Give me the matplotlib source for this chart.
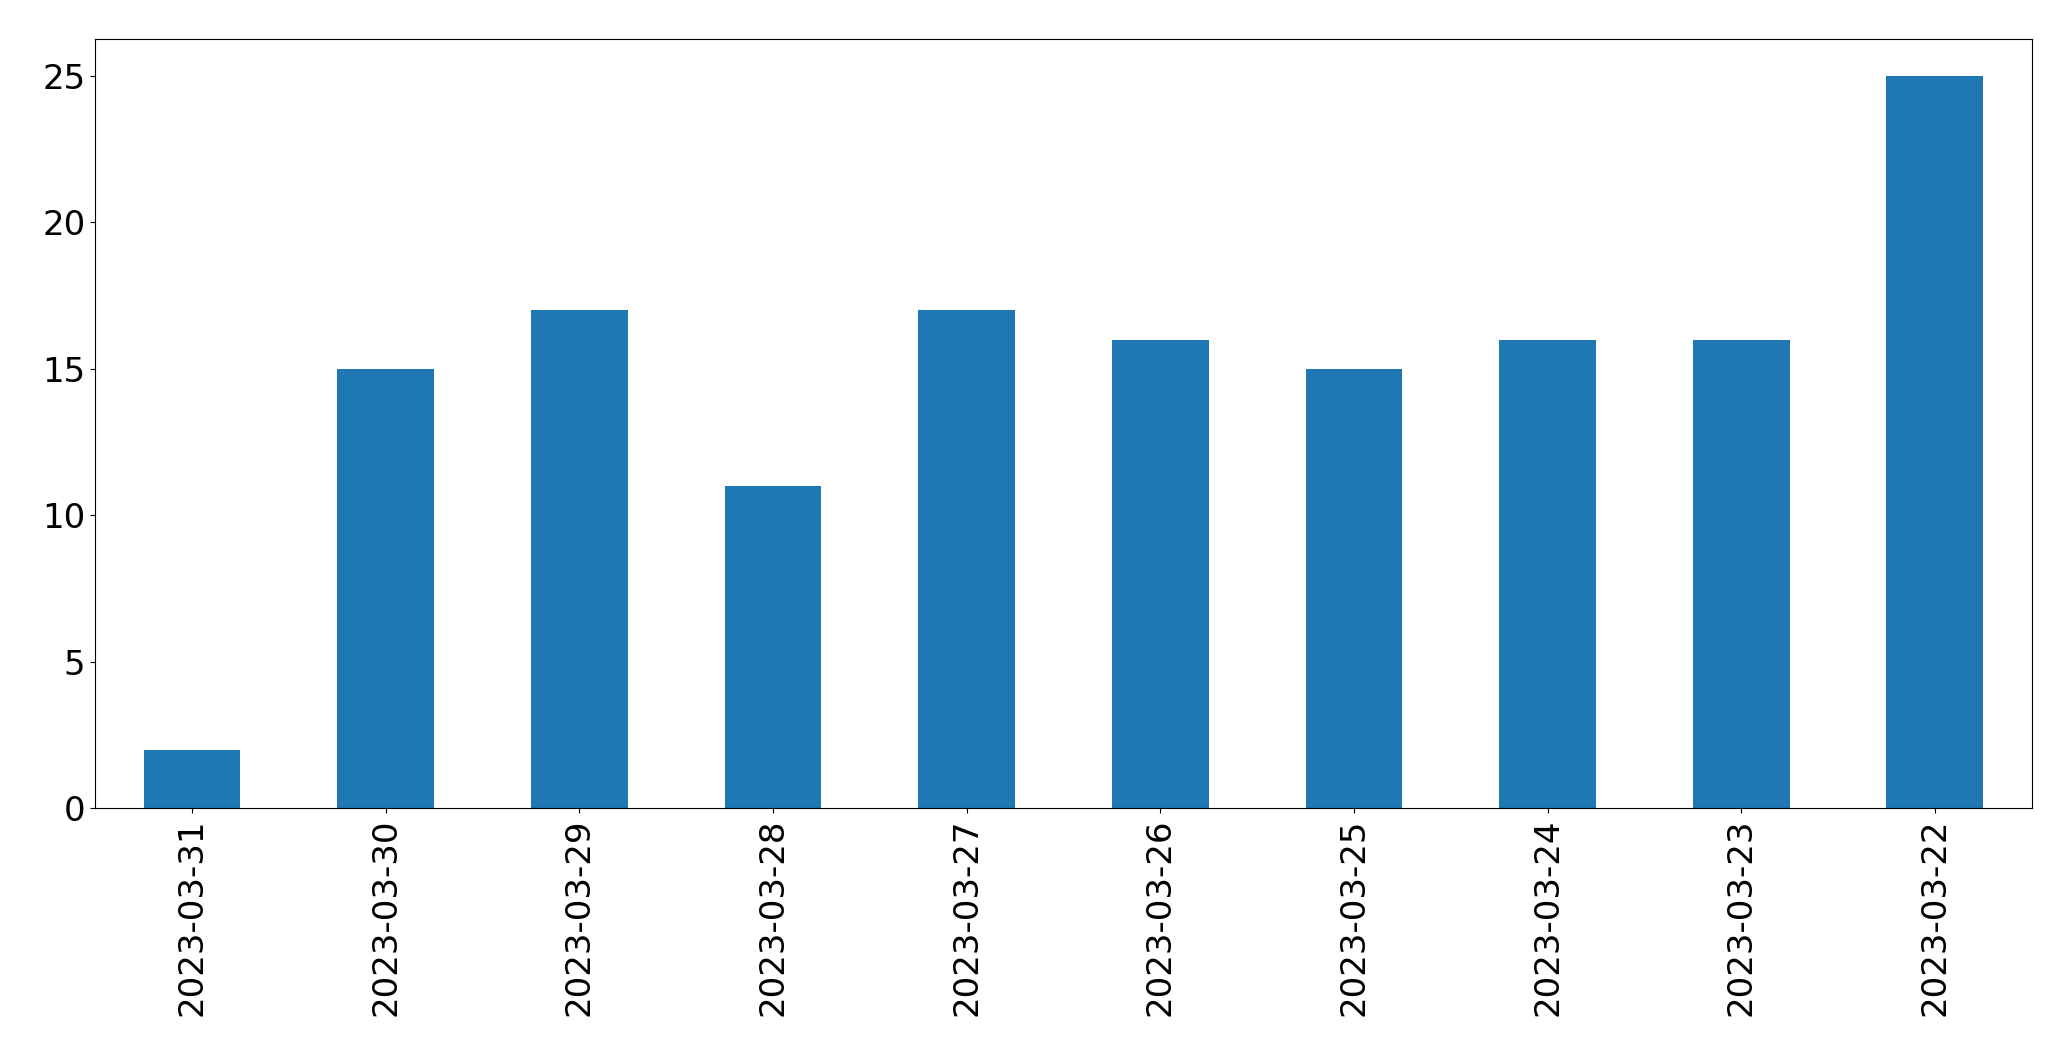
import matplotlib

matplotlib.use("Agg")
import matplotlib.pyplot as plt
import pandas as pd

dates = [
    "2023-03-31", "2023-03-30", "2023-03-29", "2023-03-28", "2023-03-27",
    "2023-03-26", "2023-03-25", "2023-03-24", "2023-03-23", "2023-03-22",
]
counts = [2, 15, 17, 11, 17, 16, 15, 16, 16, 25]

s = pd.Series(counts, index=dates)

fig, ax = plt.subplots(figsize=(20.71, 10.61), dpi=100)
s.plot.bar(ax=ax, color="#1f77b4")
ax.tick_params(axis="both", labelsize=24.5)
fig.subplots_adjust(left=0.046, right=0.981, top=0.963, bottom=0.238)
fig.savefig("out.png")
plt.close(fig)
